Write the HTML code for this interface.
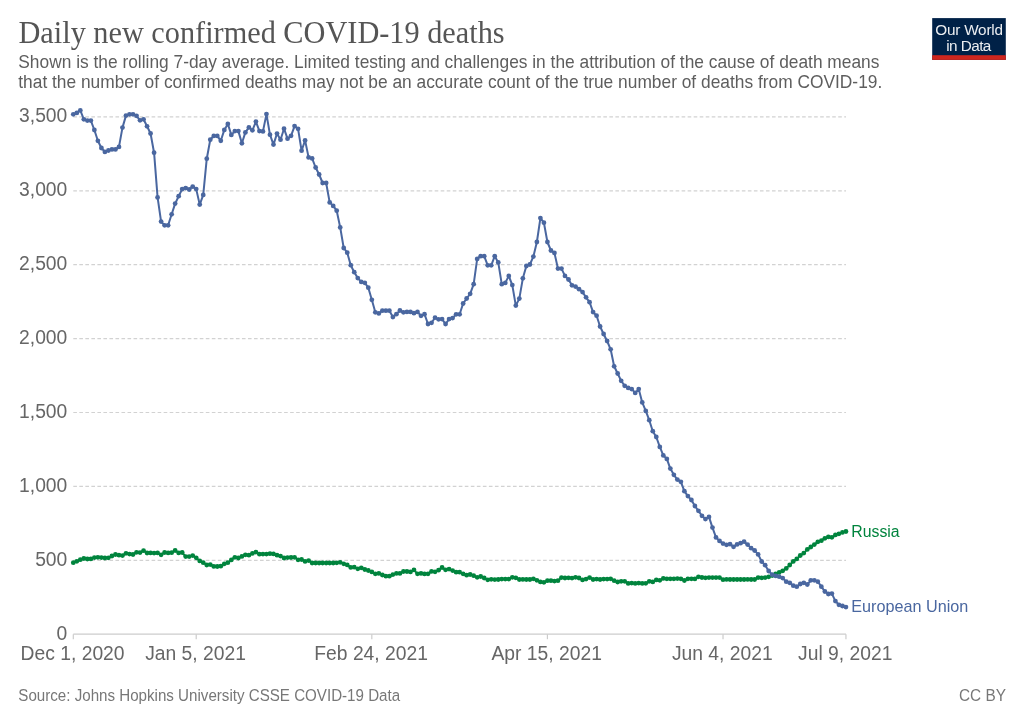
<!DOCTYPE html>
<html><head><meta charset="utf-8"><style>
html,body{margin:0;padding:0;background:#fff;width:1024px;height:723px;overflow:hidden}
svg{display:block;will-change:transform}
text{font-family:"Liberation Sans",sans-serif}
</style></head><body>
<svg width="1024" height="723" viewBox="0 0 1024 723">
<rect width="1024" height="723" fill="#fff"/>
<text x="18.5" y="43" transform="translate(0,43) scale(1,1.07) translate(0,-43)" style="font-family:'Liberation Serif',serif" font-size="30.3" fill="#555555">Daily new confirmed COVID-19 deaths</text>
<text x="18.3" y="67.7" transform="translate(0,67.7) scale(1,1.03) translate(0,-67.7)" font-size="17.35" fill="#5e5e5e">Shown is the rolling 7-day average. Limited testing and challenges in the attribution of the cause of death means</text>
<text x="18.3" y="87.9" transform="translate(0,87.9) scale(1,1.03) translate(0,-87.9)" font-size="17.35" fill="#5e5e5e">that the number of confirmed deaths may not be an accurate count of the true number of deaths from COVID-19.</text>
<g>
<rect x="932.2" y="18.1" width="73.6" height="41.8" fill="#002147"/>
<rect x="932.2" y="55.2" width="73.6" height="4.7" fill="#ce261e"/>
<text x="969" y="34.8" font-size="15.3" fill="#ffffff" text-anchor="middle" letter-spacing="-0.2" fill-opacity="0.92">Our World</text>
<text x="968.5" y="50.6" font-size="15.3" fill="#ffffff" text-anchor="middle" letter-spacing="-0.55" fill-opacity="0.92">in Data</text>
</g>
<line x1="73.3" x2="846" y1="116.90" y2="116.90" stroke="#d2d2d2" stroke-width="1.2" stroke-dasharray="3.614,2.409"/><line x1="73.3" x2="846" y1="190.80" y2="190.80" stroke="#d2d2d2" stroke-width="1.2" stroke-dasharray="3.614,2.409"/><line x1="73.3" x2="846" y1="264.70" y2="264.70" stroke="#d2d2d2" stroke-width="1.2" stroke-dasharray="3.614,2.409"/><line x1="73.3" x2="846" y1="338.60" y2="338.60" stroke="#d2d2d2" stroke-width="1.2" stroke-dasharray="3.614,2.409"/><line x1="73.3" x2="846" y1="412.50" y2="412.50" stroke="#d2d2d2" stroke-width="1.2" stroke-dasharray="3.614,2.409"/><line x1="73.3" x2="846" y1="486.40" y2="486.40" stroke="#d2d2d2" stroke-width="1.2" stroke-dasharray="3.614,2.409"/><line x1="73.3" x2="846" y1="560.30" y2="560.30" stroke="#d2d2d2" stroke-width="1.2" stroke-dasharray="3.614,2.409"/>
<line x1="73.3" x2="846" y1="634.20" y2="634.20" stroke="#cccccc" stroke-width="1.2"/>
<line x1="73.30" x2="73.30" y1="634.20" y2="639.20" stroke="#cccccc" stroke-width="1.2"/><line x1="196.22" x2="196.22" y1="634.20" y2="639.20" stroke="#cccccc" stroke-width="1.2"/><line x1="371.82" x2="371.82" y1="634.20" y2="639.20" stroke="#cccccc" stroke-width="1.2"/><line x1="547.42" x2="547.42" y1="634.20" y2="639.20" stroke="#cccccc" stroke-width="1.2"/><line x1="723.02" x2="723.02" y1="634.20" y2="639.20" stroke="#cccccc" stroke-width="1.2"/><line x1="845.94" x2="845.94" y1="634.20" y2="639.20" stroke="#cccccc" stroke-width="1.2"/>
<g font-size="19.3" fill="#666666" text-anchor="end"><text x="67.3" y="122.35" transform="translate(0,122.35) scale(1,1.05) translate(0,-122.35)">3,500</text><text x="67.3" y="196.25" transform="translate(0,196.25) scale(1,1.05) translate(0,-196.25)">3,000</text><text x="67.3" y="270.15" transform="translate(0,270.15) scale(1,1.05) translate(0,-270.15)">2,500</text><text x="67.3" y="344.05" transform="translate(0,344.05) scale(1,1.05) translate(0,-344.05)">2,000</text><text x="67.3" y="417.95" transform="translate(0,417.95) scale(1,1.05) translate(0,-417.95)">1,500</text><text x="67.3" y="491.85" transform="translate(0,491.85) scale(1,1.05) translate(0,-491.85)">1,000</text><text x="67.3" y="565.75" transform="translate(0,565.75) scale(1,1.05) translate(0,-565.75)">500</text><text x="67.3" y="639.65" transform="translate(0,639.65) scale(1,1.05) translate(0,-639.65)">0</text></g>
<g font-size="19.3" fill="#666666" text-anchor="middle"><text x="72.60" y="660.1">Dec 1, 2020</text><text x="195.52" y="660.1">Jan 5, 2021</text><text x="371.12" y="660.1">Feb 24, 2021</text><text x="546.72" y="660.1">Apr 15, 2021</text><text x="722.32" y="660.1">Jun 4, 2021</text><text x="845.24" y="660.1">Jul 9, 2021</text></g>
<path d="M73.30,562.70 L76.81,561.30 L80.32,559.70 L83.84,558.50 L87.35,559.00 L90.86,558.90 L94.37,557.60 L97.88,557.30 L101.40,557.60 L104.91,558.00 L108.42,557.80 L111.93,556.00 L115.44,554.50 L118.96,555.20 L122.47,555.60 L125.98,553.30 L129.49,554.10 L133.00,554.50 L136.52,552.30 L140.03,552.60 L143.54,550.70 L147.05,553.00 L150.56,552.90 L154.08,553.10 L157.59,552.90 L161.10,554.80 L164.61,552.50 L168.12,552.90 L171.64,552.70 L175.15,550.50 L178.66,552.90 L182.17,552.50 L185.68,556.60 L189.20,556.60 L192.71,555.60 L196.22,557.80 L199.73,560.90 L203.24,562.70 L206.76,565.00 L210.27,564.60 L213.78,566.40 L217.29,566.50 L220.80,566.20 L224.32,563.80 L227.83,562.70 L231.34,559.90 L234.85,557.30 L238.36,558.00 L241.88,556.40 L245.39,554.80 L248.90,555.20 L252.41,553.40 L255.92,552.10 L259.44,554.20 L262.95,554.10 L266.46,554.10 L269.97,553.70 L273.48,553.90 L277.00,555.20 L280.51,556.10 L284.02,558.00 L287.53,557.60 L291.04,557.50 L294.56,557.30 L298.07,559.80 L301.58,559.50 L305.09,561.40 L308.60,560.60 L312.12,563.00 L315.63,563.00 L319.14,563.00 L322.65,563.00 L326.16,563.00 L329.68,563.00 L333.19,563.00 L336.70,562.80 L340.21,562.30 L343.72,563.80 L347.24,564.90 L350.75,567.40 L354.26,567.20 L357.77,568.80 L361.28,567.80 L364.80,569.50 L368.31,570.50 L371.82,571.90 L375.33,573.80 L378.84,573.40 L382.36,575.00 L385.87,576.20 L389.38,576.20 L392.89,574.60 L396.40,573.40 L399.92,573.40 L403.43,571.50 L406.94,571.50 L410.45,571.90 L413.96,569.90 L417.48,573.80 L420.99,573.40 L424.50,573.90 L428.01,573.80 L431.52,571.40 L435.04,571.80 L438.55,570.20 L442.06,567.50 L445.57,569.80 L449.08,569.10 L452.60,570.60 L456.11,572.20 L459.62,572.20 L463.13,573.80 L466.64,575.20 L470.16,574.50 L473.67,575.70 L477.18,577.30 L480.69,576.50 L484.20,578.00 L487.72,579.80 L491.23,579.30 L494.74,579.60 L498.25,579.50 L501.76,579.10 L505.28,579.10 L508.79,579.10 L512.30,577.30 L515.81,577.80 L519.32,579.50 L522.84,579.40 L526.35,579.50 L529.86,579.50 L533.37,578.80 L536.88,580.30 L540.40,581.90 L543.91,582.30 L547.42,580.70 L550.93,580.70 L554.44,581.10 L557.96,580.70 L561.47,577.60 L564.98,578.00 L568.49,577.80 L572.00,578.10 L575.52,577.30 L579.03,578.00 L582.54,579.90 L586.05,579.10 L589.56,577.60 L593.08,579.50 L596.59,579.10 L600.10,579.50 L603.61,579.10 L607.12,579.10 L610.64,578.80 L614.15,580.70 L617.66,582.00 L621.17,581.30 L624.68,581.30 L628.20,583.40 L631.71,583.10 L635.22,583.40 L638.73,583.10 L642.24,583.40 L645.76,583.30 L649.27,581.30 L652.78,581.90 L656.29,579.90 L659.80,580.30 L663.32,578.40 L666.83,578.80 L670.34,578.80 L673.85,578.80 L677.36,578.60 L680.88,578.80 L684.39,580.50 L687.90,578.80 L691.41,578.80 L694.92,578.90 L698.44,576.80 L701.95,577.50 L705.46,577.80 L708.97,577.60 L712.48,577.60 L716.00,577.60 L719.51,577.60 L723.02,579.70 L726.53,579.40 L730.04,579.50 L733.56,579.50 L737.07,579.50 L740.58,579.50 L744.09,579.50 L747.60,579.40 L751.12,579.50 L754.63,579.50 L758.14,577.60 L761.65,577.80 L765.16,577.60 L768.68,576.80 L772.19,575.50 L775.70,573.80 L779.21,572.40 L782.72,570.80 L786.24,568.40 L789.75,565.00 L793.26,561.40 L796.77,558.90 L800.28,555.50 L803.80,553.10 L807.31,549.40 L810.82,547.00 L814.33,544.60 L817.84,541.80 L821.36,540.70 L824.87,538.30 L828.38,536.90 L831.89,537.30 L835.40,534.90 L838.92,533.80 L842.43,532.40 L845.94,531.50" fill="none" stroke-linejoin="round" stroke-linecap="round" stroke="#00843d" stroke-width="2.0"/>
<g fill="#00843d"><circle cx="73.30" cy="562.70" r="2.4"/><circle cx="76.81" cy="561.30" r="2.4"/><circle cx="80.32" cy="559.70" r="2.4"/><circle cx="83.84" cy="558.50" r="2.4"/><circle cx="87.35" cy="559.00" r="2.4"/><circle cx="90.86" cy="558.90" r="2.4"/><circle cx="94.37" cy="557.60" r="2.4"/><circle cx="97.88" cy="557.30" r="2.4"/><circle cx="101.40" cy="557.60" r="2.4"/><circle cx="104.91" cy="558.00" r="2.4"/><circle cx="108.42" cy="557.80" r="2.4"/><circle cx="111.93" cy="556.00" r="2.4"/><circle cx="115.44" cy="554.50" r="2.4"/><circle cx="118.96" cy="555.20" r="2.4"/><circle cx="122.47" cy="555.60" r="2.4"/><circle cx="125.98" cy="553.30" r="2.4"/><circle cx="129.49" cy="554.10" r="2.4"/><circle cx="133.00" cy="554.50" r="2.4"/><circle cx="136.52" cy="552.30" r="2.4"/><circle cx="140.03" cy="552.60" r="2.4"/><circle cx="143.54" cy="550.70" r="2.4"/><circle cx="147.05" cy="553.00" r="2.4"/><circle cx="150.56" cy="552.90" r="2.4"/><circle cx="154.08" cy="553.10" r="2.4"/><circle cx="157.59" cy="552.90" r="2.4"/><circle cx="161.10" cy="554.80" r="2.4"/><circle cx="164.61" cy="552.50" r="2.4"/><circle cx="168.12" cy="552.90" r="2.4"/><circle cx="171.64" cy="552.70" r="2.4"/><circle cx="175.15" cy="550.50" r="2.4"/><circle cx="178.66" cy="552.90" r="2.4"/><circle cx="182.17" cy="552.50" r="2.4"/><circle cx="185.68" cy="556.60" r="2.4"/><circle cx="189.20" cy="556.60" r="2.4"/><circle cx="192.71" cy="555.60" r="2.4"/><circle cx="196.22" cy="557.80" r="2.4"/><circle cx="199.73" cy="560.90" r="2.4"/><circle cx="203.24" cy="562.70" r="2.4"/><circle cx="206.76" cy="565.00" r="2.4"/><circle cx="210.27" cy="564.60" r="2.4"/><circle cx="213.78" cy="566.40" r="2.4"/><circle cx="217.29" cy="566.50" r="2.4"/><circle cx="220.80" cy="566.20" r="2.4"/><circle cx="224.32" cy="563.80" r="2.4"/><circle cx="227.83" cy="562.70" r="2.4"/><circle cx="231.34" cy="559.90" r="2.4"/><circle cx="234.85" cy="557.30" r="2.4"/><circle cx="238.36" cy="558.00" r="2.4"/><circle cx="241.88" cy="556.40" r="2.4"/><circle cx="245.39" cy="554.80" r="2.4"/><circle cx="248.90" cy="555.20" r="2.4"/><circle cx="252.41" cy="553.40" r="2.4"/><circle cx="255.92" cy="552.10" r="2.4"/><circle cx="259.44" cy="554.20" r="2.4"/><circle cx="262.95" cy="554.10" r="2.4"/><circle cx="266.46" cy="554.10" r="2.4"/><circle cx="269.97" cy="553.70" r="2.4"/><circle cx="273.48" cy="553.90" r="2.4"/><circle cx="277.00" cy="555.20" r="2.4"/><circle cx="280.51" cy="556.10" r="2.4"/><circle cx="284.02" cy="558.00" r="2.4"/><circle cx="287.53" cy="557.60" r="2.4"/><circle cx="291.04" cy="557.50" r="2.4"/><circle cx="294.56" cy="557.30" r="2.4"/><circle cx="298.07" cy="559.80" r="2.4"/><circle cx="301.58" cy="559.50" r="2.4"/><circle cx="305.09" cy="561.40" r="2.4"/><circle cx="308.60" cy="560.60" r="2.4"/><circle cx="312.12" cy="563.00" r="2.4"/><circle cx="315.63" cy="563.00" r="2.4"/><circle cx="319.14" cy="563.00" r="2.4"/><circle cx="322.65" cy="563.00" r="2.4"/><circle cx="326.16" cy="563.00" r="2.4"/><circle cx="329.68" cy="563.00" r="2.4"/><circle cx="333.19" cy="563.00" r="2.4"/><circle cx="336.70" cy="562.80" r="2.4"/><circle cx="340.21" cy="562.30" r="2.4"/><circle cx="343.72" cy="563.80" r="2.4"/><circle cx="347.24" cy="564.90" r="2.4"/><circle cx="350.75" cy="567.40" r="2.4"/><circle cx="354.26" cy="567.20" r="2.4"/><circle cx="357.77" cy="568.80" r="2.4"/><circle cx="361.28" cy="567.80" r="2.4"/><circle cx="364.80" cy="569.50" r="2.4"/><circle cx="368.31" cy="570.50" r="2.4"/><circle cx="371.82" cy="571.90" r="2.4"/><circle cx="375.33" cy="573.80" r="2.4"/><circle cx="378.84" cy="573.40" r="2.4"/><circle cx="382.36" cy="575.00" r="2.4"/><circle cx="385.87" cy="576.20" r="2.4"/><circle cx="389.38" cy="576.20" r="2.4"/><circle cx="392.89" cy="574.60" r="2.4"/><circle cx="396.40" cy="573.40" r="2.4"/><circle cx="399.92" cy="573.40" r="2.4"/><circle cx="403.43" cy="571.50" r="2.4"/><circle cx="406.94" cy="571.50" r="2.4"/><circle cx="410.45" cy="571.90" r="2.4"/><circle cx="413.96" cy="569.90" r="2.4"/><circle cx="417.48" cy="573.80" r="2.4"/><circle cx="420.99" cy="573.40" r="2.4"/><circle cx="424.50" cy="573.90" r="2.4"/><circle cx="428.01" cy="573.80" r="2.4"/><circle cx="431.52" cy="571.40" r="2.4"/><circle cx="435.04" cy="571.80" r="2.4"/><circle cx="438.55" cy="570.20" r="2.4"/><circle cx="442.06" cy="567.50" r="2.4"/><circle cx="445.57" cy="569.80" r="2.4"/><circle cx="449.08" cy="569.10" r="2.4"/><circle cx="452.60" cy="570.60" r="2.4"/><circle cx="456.11" cy="572.20" r="2.4"/><circle cx="459.62" cy="572.20" r="2.4"/><circle cx="463.13" cy="573.80" r="2.4"/><circle cx="466.64" cy="575.20" r="2.4"/><circle cx="470.16" cy="574.50" r="2.4"/><circle cx="473.67" cy="575.70" r="2.4"/><circle cx="477.18" cy="577.30" r="2.4"/><circle cx="480.69" cy="576.50" r="2.4"/><circle cx="484.20" cy="578.00" r="2.4"/><circle cx="487.72" cy="579.80" r="2.4"/><circle cx="491.23" cy="579.30" r="2.4"/><circle cx="494.74" cy="579.60" r="2.4"/><circle cx="498.25" cy="579.50" r="2.4"/><circle cx="501.76" cy="579.10" r="2.4"/><circle cx="505.28" cy="579.10" r="2.4"/><circle cx="508.79" cy="579.10" r="2.4"/><circle cx="512.30" cy="577.30" r="2.4"/><circle cx="515.81" cy="577.80" r="2.4"/><circle cx="519.32" cy="579.50" r="2.4"/><circle cx="522.84" cy="579.40" r="2.4"/><circle cx="526.35" cy="579.50" r="2.4"/><circle cx="529.86" cy="579.50" r="2.4"/><circle cx="533.37" cy="578.80" r="2.4"/><circle cx="536.88" cy="580.30" r="2.4"/><circle cx="540.40" cy="581.90" r="2.4"/><circle cx="543.91" cy="582.30" r="2.4"/><circle cx="547.42" cy="580.70" r="2.4"/><circle cx="550.93" cy="580.70" r="2.4"/><circle cx="554.44" cy="581.10" r="2.4"/><circle cx="557.96" cy="580.70" r="2.4"/><circle cx="561.47" cy="577.60" r="2.4"/><circle cx="564.98" cy="578.00" r="2.4"/><circle cx="568.49" cy="577.80" r="2.4"/><circle cx="572.00" cy="578.10" r="2.4"/><circle cx="575.52" cy="577.30" r="2.4"/><circle cx="579.03" cy="578.00" r="2.4"/><circle cx="582.54" cy="579.90" r="2.4"/><circle cx="586.05" cy="579.10" r="2.4"/><circle cx="589.56" cy="577.60" r="2.4"/><circle cx="593.08" cy="579.50" r="2.4"/><circle cx="596.59" cy="579.10" r="2.4"/><circle cx="600.10" cy="579.50" r="2.4"/><circle cx="603.61" cy="579.10" r="2.4"/><circle cx="607.12" cy="579.10" r="2.4"/><circle cx="610.64" cy="578.80" r="2.4"/><circle cx="614.15" cy="580.70" r="2.4"/><circle cx="617.66" cy="582.00" r="2.4"/><circle cx="621.17" cy="581.30" r="2.4"/><circle cx="624.68" cy="581.30" r="2.4"/><circle cx="628.20" cy="583.40" r="2.4"/><circle cx="631.71" cy="583.10" r="2.4"/><circle cx="635.22" cy="583.40" r="2.4"/><circle cx="638.73" cy="583.10" r="2.4"/><circle cx="642.24" cy="583.40" r="2.4"/><circle cx="645.76" cy="583.30" r="2.4"/><circle cx="649.27" cy="581.30" r="2.4"/><circle cx="652.78" cy="581.90" r="2.4"/><circle cx="656.29" cy="579.90" r="2.4"/><circle cx="659.80" cy="580.30" r="2.4"/><circle cx="663.32" cy="578.40" r="2.4"/><circle cx="666.83" cy="578.80" r="2.4"/><circle cx="670.34" cy="578.80" r="2.4"/><circle cx="673.85" cy="578.80" r="2.4"/><circle cx="677.36" cy="578.60" r="2.4"/><circle cx="680.88" cy="578.80" r="2.4"/><circle cx="684.39" cy="580.50" r="2.4"/><circle cx="687.90" cy="578.80" r="2.4"/><circle cx="691.41" cy="578.80" r="2.4"/><circle cx="694.92" cy="578.90" r="2.4"/><circle cx="698.44" cy="576.80" r="2.4"/><circle cx="701.95" cy="577.50" r="2.4"/><circle cx="705.46" cy="577.80" r="2.4"/><circle cx="708.97" cy="577.60" r="2.4"/><circle cx="712.48" cy="577.60" r="2.4"/><circle cx="716.00" cy="577.60" r="2.4"/><circle cx="719.51" cy="577.60" r="2.4"/><circle cx="723.02" cy="579.70" r="2.4"/><circle cx="726.53" cy="579.40" r="2.4"/><circle cx="730.04" cy="579.50" r="2.4"/><circle cx="733.56" cy="579.50" r="2.4"/><circle cx="737.07" cy="579.50" r="2.4"/><circle cx="740.58" cy="579.50" r="2.4"/><circle cx="744.09" cy="579.50" r="2.4"/><circle cx="747.60" cy="579.40" r="2.4"/><circle cx="751.12" cy="579.50" r="2.4"/><circle cx="754.63" cy="579.50" r="2.4"/><circle cx="758.14" cy="577.60" r="2.4"/><circle cx="761.65" cy="577.80" r="2.4"/><circle cx="765.16" cy="577.60" r="2.4"/><circle cx="768.68" cy="576.80" r="2.4"/><circle cx="772.19" cy="575.50" r="2.4"/><circle cx="775.70" cy="573.80" r="2.4"/><circle cx="779.21" cy="572.40" r="2.4"/><circle cx="782.72" cy="570.80" r="2.4"/><circle cx="786.24" cy="568.40" r="2.4"/><circle cx="789.75" cy="565.00" r="2.4"/><circle cx="793.26" cy="561.40" r="2.4"/><circle cx="796.77" cy="558.90" r="2.4"/><circle cx="800.28" cy="555.50" r="2.4"/><circle cx="803.80" cy="553.10" r="2.4"/><circle cx="807.31" cy="549.40" r="2.4"/><circle cx="810.82" cy="547.00" r="2.4"/><circle cx="814.33" cy="544.60" r="2.4"/><circle cx="817.84" cy="541.80" r="2.4"/><circle cx="821.36" cy="540.70" r="2.4"/><circle cx="824.87" cy="538.30" r="2.4"/><circle cx="828.38" cy="536.90" r="2.4"/><circle cx="831.89" cy="537.30" r="2.4"/><circle cx="835.40" cy="534.90" r="2.4"/><circle cx="838.92" cy="533.80" r="2.4"/><circle cx="842.43" cy="532.40" r="2.4"/><circle cx="845.94" cy="531.50" r="2.4"/></g>
<path d="M73.30,114.30 L76.81,112.90 L80.32,110.40 L83.84,119.30 L87.35,120.60 L90.86,120.60 L94.37,130.00 L97.88,140.80 L101.40,148.00 L104.91,151.90 L108.42,150.50 L111.93,149.40 L115.44,149.40 L118.96,146.90 L122.47,127.60 L125.98,115.60 L129.49,114.30 L133.00,114.30 L136.52,115.80 L140.03,120.30 L143.54,119.30 L147.05,126.30 L150.56,133.50 L154.08,152.70 L157.59,197.40 L161.10,221.60 L164.61,225.30 L168.12,225.30 L171.64,214.30 L175.15,203.60 L178.66,196.20 L182.17,189.10 L185.68,188.10 L189.20,189.50 L192.71,186.60 L196.22,189.10 L199.73,204.60 L203.24,194.90 L206.76,158.70 L210.27,139.70 L213.78,135.90 L217.29,135.90 L220.80,140.80 L224.32,129.90 L227.83,123.90 L231.34,134.90 L234.85,131.10 L238.36,131.10 L241.88,143.30 L245.39,132.40 L248.90,127.40 L252.41,130.30 L255.92,121.60 L259.44,131.10 L262.95,131.40 L266.46,114.10 L269.97,134.70 L273.48,144.60 L277.00,133.60 L280.51,139.70 L284.02,128.70 L287.53,138.70 L291.04,135.80 L294.56,126.10 L298.07,128.80 L301.58,150.70 L305.09,140.40 L308.60,157.40 L312.12,158.40 L315.63,167.50 L319.14,174.50 L322.65,183.00 L326.16,183.00 L329.68,202.40 L333.19,205.90 L336.70,210.70 L340.21,227.40 L343.72,248.00 L347.24,252.70 L350.75,265.20 L354.26,272.20 L357.77,278.10 L361.28,281.90 L364.80,282.80 L368.31,287.70 L371.82,299.80 L375.33,312.30 L378.84,313.40 L382.36,310.70 L385.87,310.70 L389.38,310.70 L392.89,317.00 L396.40,314.20 L399.92,310.50 L403.43,312.30 L406.94,311.90 L410.45,311.90 L413.96,313.20 L417.48,311.90 L420.99,315.80 L424.50,314.20 L428.01,324.00 L431.52,322.80 L435.04,317.70 L438.55,319.30 L442.06,319.10 L445.57,324.00 L449.08,319.10 L452.60,318.10 L456.11,314.30 L459.62,314.30 L463.13,303.50 L466.64,298.50 L470.16,293.80 L473.67,284.20 L477.18,258.90 L480.69,256.20 L484.20,256.20 L487.72,265.30 L491.23,265.30 L494.74,256.20 L498.25,262.40 L501.76,284.20 L505.28,282.90 L508.79,275.90 L512.30,285.10 L515.81,305.60 L519.32,298.60 L522.84,278.30 L526.35,266.00 L529.86,264.50 L533.37,256.60 L536.88,242.00 L540.40,218.10 L543.91,222.70 L547.42,242.00 L550.93,250.50 L554.44,252.90 L557.96,268.60 L561.47,268.60 L564.98,275.90 L568.49,279.50 L572.00,285.30 L575.52,286.60 L579.03,289.20 L582.54,292.10 L586.05,297.30 L589.56,302.20 L593.08,312.10 L596.59,315.70 L600.10,326.50 L603.61,334.00 L607.12,341.00 L610.64,349.30 L614.15,366.30 L617.66,373.50 L621.17,380.80 L624.68,385.80 L628.20,387.90 L631.71,389.10 L635.22,392.90 L638.73,389.10 L642.24,402.40 L645.76,410.90 L649.27,420.20 L652.78,431.20 L656.29,437.00 L659.80,446.90 L663.32,455.40 L666.83,458.90 L670.34,468.60 L673.85,474.80 L677.36,479.60 L680.88,481.80 L684.39,491.20 L687.90,496.10 L691.41,500.00 L694.92,506.00 L698.44,510.80 L701.95,515.80 L705.46,519.10 L708.97,516.90 L712.48,527.60 L716.00,537.40 L719.51,540.90 L723.02,543.60 L726.53,544.80 L730.04,544.20 L733.56,546.80 L737.07,544.40 L740.58,543.20 L744.09,541.70 L747.60,544.60 L751.12,548.20 L754.63,550.50 L758.14,554.40 L761.65,561.50 L765.16,565.20 L768.68,571.00 L772.19,574.70 L775.70,575.90 L779.21,576.70 L782.72,578.10 L786.24,581.70 L789.75,582.80 L793.26,585.70 L796.77,586.70 L800.28,584.00 L803.80,582.80 L807.31,584.50 L810.82,580.30 L814.33,580.30 L817.84,581.70 L821.36,586.70 L824.87,591.50 L828.38,594.00 L831.89,593.60 L835.40,601.10 L838.92,604.80 L842.43,606.00 L845.94,607.10" fill="none" stroke-linejoin="round" stroke-linecap="round" stroke="#4a67a0" stroke-width="2.0"/>
<g fill="#4a67a0"><circle cx="73.30" cy="114.30" r="2.4"/><circle cx="76.81" cy="112.90" r="2.4"/><circle cx="80.32" cy="110.40" r="2.4"/><circle cx="83.84" cy="119.30" r="2.4"/><circle cx="87.35" cy="120.60" r="2.4"/><circle cx="90.86" cy="120.60" r="2.4"/><circle cx="94.37" cy="130.00" r="2.4"/><circle cx="97.88" cy="140.80" r="2.4"/><circle cx="101.40" cy="148.00" r="2.4"/><circle cx="104.91" cy="151.90" r="2.4"/><circle cx="108.42" cy="150.50" r="2.4"/><circle cx="111.93" cy="149.40" r="2.4"/><circle cx="115.44" cy="149.40" r="2.4"/><circle cx="118.96" cy="146.90" r="2.4"/><circle cx="122.47" cy="127.60" r="2.4"/><circle cx="125.98" cy="115.60" r="2.4"/><circle cx="129.49" cy="114.30" r="2.4"/><circle cx="133.00" cy="114.30" r="2.4"/><circle cx="136.52" cy="115.80" r="2.4"/><circle cx="140.03" cy="120.30" r="2.4"/><circle cx="143.54" cy="119.30" r="2.4"/><circle cx="147.05" cy="126.30" r="2.4"/><circle cx="150.56" cy="133.50" r="2.4"/><circle cx="154.08" cy="152.70" r="2.4"/><circle cx="157.59" cy="197.40" r="2.4"/><circle cx="161.10" cy="221.60" r="2.4"/><circle cx="164.61" cy="225.30" r="2.4"/><circle cx="168.12" cy="225.30" r="2.4"/><circle cx="171.64" cy="214.30" r="2.4"/><circle cx="175.15" cy="203.60" r="2.4"/><circle cx="178.66" cy="196.20" r="2.4"/><circle cx="182.17" cy="189.10" r="2.4"/><circle cx="185.68" cy="188.10" r="2.4"/><circle cx="189.20" cy="189.50" r="2.4"/><circle cx="192.71" cy="186.60" r="2.4"/><circle cx="196.22" cy="189.10" r="2.4"/><circle cx="199.73" cy="204.60" r="2.4"/><circle cx="203.24" cy="194.90" r="2.4"/><circle cx="206.76" cy="158.70" r="2.4"/><circle cx="210.27" cy="139.70" r="2.4"/><circle cx="213.78" cy="135.90" r="2.4"/><circle cx="217.29" cy="135.90" r="2.4"/><circle cx="220.80" cy="140.80" r="2.4"/><circle cx="224.32" cy="129.90" r="2.4"/><circle cx="227.83" cy="123.90" r="2.4"/><circle cx="231.34" cy="134.90" r="2.4"/><circle cx="234.85" cy="131.10" r="2.4"/><circle cx="238.36" cy="131.10" r="2.4"/><circle cx="241.88" cy="143.30" r="2.4"/><circle cx="245.39" cy="132.40" r="2.4"/><circle cx="248.90" cy="127.40" r="2.4"/><circle cx="252.41" cy="130.30" r="2.4"/><circle cx="255.92" cy="121.60" r="2.4"/><circle cx="259.44" cy="131.10" r="2.4"/><circle cx="262.95" cy="131.40" r="2.4"/><circle cx="266.46" cy="114.10" r="2.4"/><circle cx="269.97" cy="134.70" r="2.4"/><circle cx="273.48" cy="144.60" r="2.4"/><circle cx="277.00" cy="133.60" r="2.4"/><circle cx="280.51" cy="139.70" r="2.4"/><circle cx="284.02" cy="128.70" r="2.4"/><circle cx="287.53" cy="138.70" r="2.4"/><circle cx="291.04" cy="135.80" r="2.4"/><circle cx="294.56" cy="126.10" r="2.4"/><circle cx="298.07" cy="128.80" r="2.4"/><circle cx="301.58" cy="150.70" r="2.4"/><circle cx="305.09" cy="140.40" r="2.4"/><circle cx="308.60" cy="157.40" r="2.4"/><circle cx="312.12" cy="158.40" r="2.4"/><circle cx="315.63" cy="167.50" r="2.4"/><circle cx="319.14" cy="174.50" r="2.4"/><circle cx="322.65" cy="183.00" r="2.4"/><circle cx="326.16" cy="183.00" r="2.4"/><circle cx="329.68" cy="202.40" r="2.4"/><circle cx="333.19" cy="205.90" r="2.4"/><circle cx="336.70" cy="210.70" r="2.4"/><circle cx="340.21" cy="227.40" r="2.4"/><circle cx="343.72" cy="248.00" r="2.4"/><circle cx="347.24" cy="252.70" r="2.4"/><circle cx="350.75" cy="265.20" r="2.4"/><circle cx="354.26" cy="272.20" r="2.4"/><circle cx="357.77" cy="278.10" r="2.4"/><circle cx="361.28" cy="281.90" r="2.4"/><circle cx="364.80" cy="282.80" r="2.4"/><circle cx="368.31" cy="287.70" r="2.4"/><circle cx="371.82" cy="299.80" r="2.4"/><circle cx="375.33" cy="312.30" r="2.4"/><circle cx="378.84" cy="313.40" r="2.4"/><circle cx="382.36" cy="310.70" r="2.4"/><circle cx="385.87" cy="310.70" r="2.4"/><circle cx="389.38" cy="310.70" r="2.4"/><circle cx="392.89" cy="317.00" r="2.4"/><circle cx="396.40" cy="314.20" r="2.4"/><circle cx="399.92" cy="310.50" r="2.4"/><circle cx="403.43" cy="312.30" r="2.4"/><circle cx="406.94" cy="311.90" r="2.4"/><circle cx="410.45" cy="311.90" r="2.4"/><circle cx="413.96" cy="313.20" r="2.4"/><circle cx="417.48" cy="311.90" r="2.4"/><circle cx="420.99" cy="315.80" r="2.4"/><circle cx="424.50" cy="314.20" r="2.4"/><circle cx="428.01" cy="324.00" r="2.4"/><circle cx="431.52" cy="322.80" r="2.4"/><circle cx="435.04" cy="317.70" r="2.4"/><circle cx="438.55" cy="319.30" r="2.4"/><circle cx="442.06" cy="319.10" r="2.4"/><circle cx="445.57" cy="324.00" r="2.4"/><circle cx="449.08" cy="319.10" r="2.4"/><circle cx="452.60" cy="318.10" r="2.4"/><circle cx="456.11" cy="314.30" r="2.4"/><circle cx="459.62" cy="314.30" r="2.4"/><circle cx="463.13" cy="303.50" r="2.4"/><circle cx="466.64" cy="298.50" r="2.4"/><circle cx="470.16" cy="293.80" r="2.4"/><circle cx="473.67" cy="284.20" r="2.4"/><circle cx="477.18" cy="258.90" r="2.4"/><circle cx="480.69" cy="256.20" r="2.4"/><circle cx="484.20" cy="256.20" r="2.4"/><circle cx="487.72" cy="265.30" r="2.4"/><circle cx="491.23" cy="265.30" r="2.4"/><circle cx="494.74" cy="256.20" r="2.4"/><circle cx="498.25" cy="262.40" r="2.4"/><circle cx="501.76" cy="284.20" r="2.4"/><circle cx="505.28" cy="282.90" r="2.4"/><circle cx="508.79" cy="275.90" r="2.4"/><circle cx="512.30" cy="285.10" r="2.4"/><circle cx="515.81" cy="305.60" r="2.4"/><circle cx="519.32" cy="298.60" r="2.4"/><circle cx="522.84" cy="278.30" r="2.4"/><circle cx="526.35" cy="266.00" r="2.4"/><circle cx="529.86" cy="264.50" r="2.4"/><circle cx="533.37" cy="256.60" r="2.4"/><circle cx="536.88" cy="242.00" r="2.4"/><circle cx="540.40" cy="218.10" r="2.4"/><circle cx="543.91" cy="222.70" r="2.4"/><circle cx="547.42" cy="242.00" r="2.4"/><circle cx="550.93" cy="250.50" r="2.4"/><circle cx="554.44" cy="252.90" r="2.4"/><circle cx="557.96" cy="268.60" r="2.4"/><circle cx="561.47" cy="268.60" r="2.4"/><circle cx="564.98" cy="275.90" r="2.4"/><circle cx="568.49" cy="279.50" r="2.4"/><circle cx="572.00" cy="285.30" r="2.4"/><circle cx="575.52" cy="286.60" r="2.4"/><circle cx="579.03" cy="289.20" r="2.4"/><circle cx="582.54" cy="292.10" r="2.4"/><circle cx="586.05" cy="297.30" r="2.4"/><circle cx="589.56" cy="302.20" r="2.4"/><circle cx="593.08" cy="312.10" r="2.4"/><circle cx="596.59" cy="315.70" r="2.4"/><circle cx="600.10" cy="326.50" r="2.4"/><circle cx="603.61" cy="334.00" r="2.4"/><circle cx="607.12" cy="341.00" r="2.4"/><circle cx="610.64" cy="349.30" r="2.4"/><circle cx="614.15" cy="366.30" r="2.4"/><circle cx="617.66" cy="373.50" r="2.4"/><circle cx="621.17" cy="380.80" r="2.4"/><circle cx="624.68" cy="385.80" r="2.4"/><circle cx="628.20" cy="387.90" r="2.4"/><circle cx="631.71" cy="389.10" r="2.4"/><circle cx="635.22" cy="392.90" r="2.4"/><circle cx="638.73" cy="389.10" r="2.4"/><circle cx="642.24" cy="402.40" r="2.4"/><circle cx="645.76" cy="410.90" r="2.4"/><circle cx="649.27" cy="420.20" r="2.4"/><circle cx="652.78" cy="431.20" r="2.4"/><circle cx="656.29" cy="437.00" r="2.4"/><circle cx="659.80" cy="446.90" r="2.4"/><circle cx="663.32" cy="455.40" r="2.4"/><circle cx="666.83" cy="458.90" r="2.4"/><circle cx="670.34" cy="468.60" r="2.4"/><circle cx="673.85" cy="474.80" r="2.4"/><circle cx="677.36" cy="479.60" r="2.4"/><circle cx="680.88" cy="481.80" r="2.4"/><circle cx="684.39" cy="491.20" r="2.4"/><circle cx="687.90" cy="496.10" r="2.4"/><circle cx="691.41" cy="500.00" r="2.4"/><circle cx="694.92" cy="506.00" r="2.4"/><circle cx="698.44" cy="510.80" r="2.4"/><circle cx="701.95" cy="515.80" r="2.4"/><circle cx="705.46" cy="519.10" r="2.4"/><circle cx="708.97" cy="516.90" r="2.4"/><circle cx="712.48" cy="527.60" r="2.4"/><circle cx="716.00" cy="537.40" r="2.4"/><circle cx="719.51" cy="540.90" r="2.4"/><circle cx="723.02" cy="543.60" r="2.4"/><circle cx="726.53" cy="544.80" r="2.4"/><circle cx="730.04" cy="544.20" r="2.4"/><circle cx="733.56" cy="546.80" r="2.4"/><circle cx="737.07" cy="544.40" r="2.4"/><circle cx="740.58" cy="543.20" r="2.4"/><circle cx="744.09" cy="541.70" r="2.4"/><circle cx="747.60" cy="544.60" r="2.4"/><circle cx="751.12" cy="548.20" r="2.4"/><circle cx="754.63" cy="550.50" r="2.4"/><circle cx="758.14" cy="554.40" r="2.4"/><circle cx="761.65" cy="561.50" r="2.4"/><circle cx="765.16" cy="565.20" r="2.4"/><circle cx="768.68" cy="571.00" r="2.4"/><circle cx="772.19" cy="574.70" r="2.4"/><circle cx="775.70" cy="575.90" r="2.4"/><circle cx="779.21" cy="576.70" r="2.4"/><circle cx="782.72" cy="578.10" r="2.4"/><circle cx="786.24" cy="581.70" r="2.4"/><circle cx="789.75" cy="582.80" r="2.4"/><circle cx="793.26" cy="585.70" r="2.4"/><circle cx="796.77" cy="586.70" r="2.4"/><circle cx="800.28" cy="584.00" r="2.4"/><circle cx="803.80" cy="582.80" r="2.4"/><circle cx="807.31" cy="584.50" r="2.4"/><circle cx="810.82" cy="580.30" r="2.4"/><circle cx="814.33" cy="580.30" r="2.4"/><circle cx="817.84" cy="581.70" r="2.4"/><circle cx="821.36" cy="586.70" r="2.4"/><circle cx="824.87" cy="591.50" r="2.4"/><circle cx="828.38" cy="594.00" r="2.4"/><circle cx="831.89" cy="593.60" r="2.4"/><circle cx="835.40" cy="601.10" r="2.4"/><circle cx="838.92" cy="604.80" r="2.4"/><circle cx="842.43" cy="606.00" r="2.4"/><circle cx="845.94" cy="607.10" r="2.4"/></g>
<text x="851.3" y="536.6" font-size="15.8" fill="#00843d">Russia</text>
<text x="851.3" y="611.7" font-size="16.2" fill="#4a67a0">European Union</text>
<text x="18.3" y="701.5" transform="translate(0,701.5) scale(1,1.05) translate(0,-701.5)" font-size="15.15" fill="#777777">Source: Johns Hopkins University CSSE COVID-19 Data</text>
<text x="1006" y="701.5" transform="translate(0,701.5) scale(1,1.05) translate(0,-701.5)" font-size="15.4" fill="#777777" text-anchor="end">CC BY</text>
</svg>
</body></html>
